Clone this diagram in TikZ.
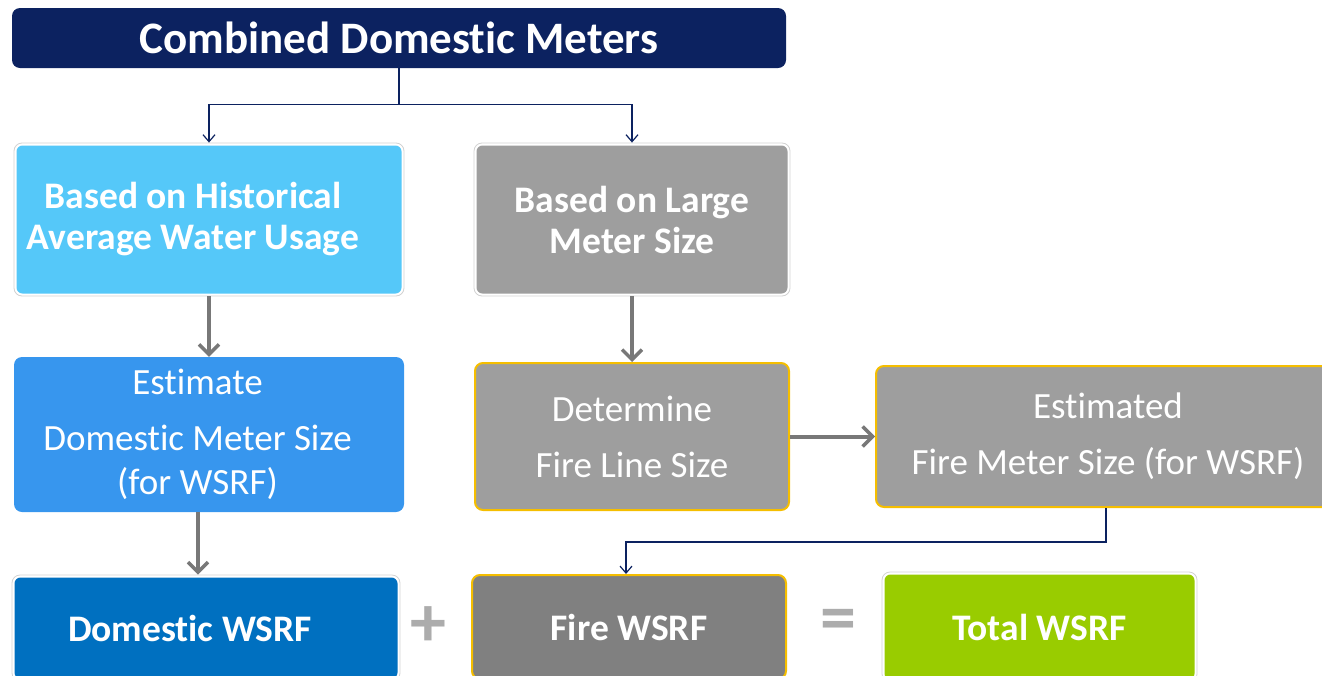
\documentclass[tikz,border=0pt]{standalone}
\usepackage{fontspec}
\setmainfont{Carlito}[Ligatures=NoCommon]
\usetikzlibrary{arrows.meta}
\definecolor{navy}{HTML}{0C2260}
\definecolor{skyblue}{HTML}{55C8F9}
\definecolor{midblue}{HTML}{3796EE}
\definecolor{deepblue}{HTML}{0070C0}
\definecolor{lightgray}{HTML}{9E9E9E}
\definecolor{darkgray}{HTML}{808080}
\definecolor{limegreen}{HTML}{99CC00}
\definecolor{gold}{HTML}{F5BE00}
\definecolor{arrowgray}{HTML}{787878}
\tikzset{
    box/.style={rounded corners=8pt, text=white, align=center, inner sep=0pt},
    framed/.style={box, draw=gray!35, line width=0.8pt, fill=white,
        path picture={\fill[#1, rounded corners=6pt]
            ([shift={(2.5pt,-2.5pt)}]path picture bounding box.north west) rectangle
            ([shift={(-2.5pt,2.5pt)}]path picture bounding box.south east);}},
    golden/.style={box, draw=gold, line width=2pt, fill=#1},
    thinarrow/.style={draw=navy, line width=1.2pt, -{Straight Barb[length=7pt, width=12pt]}},
    thickarrow/.style={draw=arrowgray, line width=4pt, -{Straight Barb[length=10pt, width=20pt, line width=3.5pt]}},
}
\newcommand\padR[2][32pt]{#2\rule{#1}{0pt}}

\begin{document}
\begin{tikzpicture}[x=1pt, y=-1pt]
    \newcommand\posL{209}
    \newcommand\posM{632}
    \newcommand\posR{1108}

    \clip (0, 0) rectangle (1322, 675);

    \node[box, fill=navy, minimum width=774pt, minimum height=60pt, font=\fontsize{45}{50}\selectfont\bfseries] (title) at (399, 38){Combined Domestic Meters};

    \node[framed=skyblue, minimum width=390pt, minimum height=153pt, font=\fontsize{37.5}{41}\selectfont\bfseries] (hist) at (\posL, 219.5){\padR{Based on Historical}\\\padR{Average Water Usage}};
    \node[framed=lightgray, minimum width=316pt, minimum height=153pt, font=\fontsize{37.5}{41}\selectfont\bfseries] (large) at (\posM, 219.5){Based on Large\\Meter Size};

    \node[box, fill=midblue, minimum width=390pt, minimum height=155pt, font=\fontsize{37}{44}\selectfont] (estdom) at (\posL, 434.5){\padR[23pt]{Estimate}\\[12pt]\padR[23pt]{Domestic Meter Size}\\\padR[23pt]{(for WSRF)}};
    \node[golden=lightgray, minimum width=314pt, minimum height=147pt, font=\fontsize{37}{56}\selectfont] (fireline) at (\posM, 436.5){Determine\\Fire Line Size};
    \node[golden=lightgray, minimum width=464pt, minimum height=141pt, font=\fontsize{37}{56}\selectfont] (firemeter) at (\posR, 436.5){Estimated\\Fire Meter Size (for WSRF)};

    \node[framed=deepblue, minimum width=388pt, minimum height=106pt, font=\fontsize{37.5}{41}\selectfont\bfseries] (domwsrf) at (206, 628){\padR{Domestic WSRF}};
    \node[golden=darkgray, minimum width=314pt, minimum height=104pt, font=\fontsize{37.5}{41}\selectfont\bfseries] (firewsrf) at (629, 627){Fire WSRF};
    \node[framed=limegreen, minimum width=315pt, minimum height=110pt, font=\fontsize{37.5}{41}\selectfont\bfseries] (total) at (1039.5, 627){Total WSRF};

    \node[text=gray!65, font=\fontsize{72}{72}\selectfont\bfseries] (plus) at (428, 627){+};
    \node[text=gray!65, font=\fontsize{72}{72}\selectfont\bfseries] (equals) at (838, 625){=};

    % split from the title
    \draw[navy, line width=1.2pt] (title.south) -- ++(0, 36) coordinate (split);
    \draw[thinarrow] (split) -| (hist.north);
    \draw[thinarrow] (split) -| (large.north);

    \draw[thickarrow] (hist.south) -- (estdom.north);
    \draw[thickarrow] ([xshift=-11pt]estdom.south) -- ([xshift=-8pt]domwsrf.north);
    \draw[thickarrow] (large.south) -- (fireline.north);
    \draw[thickarrow] (fireline.east) -- (firemeter.west);

    \draw[thinarrow] ([xshift=-2pt]firemeter.south) -- ++(0, 34) -| ([xshift=-3pt]firewsrf.north);
\end{tikzpicture}
\end{document}
